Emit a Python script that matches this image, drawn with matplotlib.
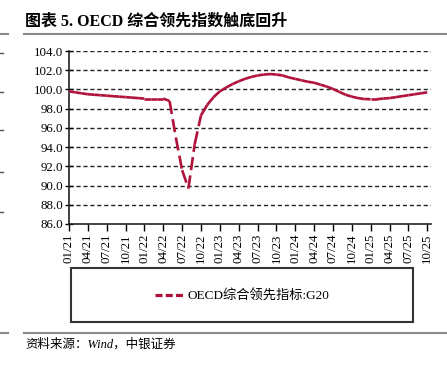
import matplotlib
matplotlib.use('Agg')
import matplotlib.pyplot as plt
from matplotlib.lines import Line2D
from matplotlib.patches import Rectangle

# monthly OECD CLI (G20), 01/21 .. 10/25
months = list(range(58))
cli_values = [
    99.8, 99.7, 99.6, 99.5, 99.45, 99.4, 99.35, 99.3, 99.25, 99.2,
    99.15, 99.1, 99.05, 99.05, 99.05, 99.05, 98.8, 95.0, 91.6, 89.7,
    94.3, 97.3, 98.4, 99.2, 99.8, 100.2, 100.55, 100.85, 101.1, 101.3,
    101.45, 101.55, 101.6, 101.55, 101.45, 101.25, 101.1, 100.95, 100.8, 100.7,
    100.5, 100.3, 100.05, 99.75, 99.45, 99.25, 99.1, 99.0, 98.98, 98.98,
    99.05, 99.1, 99.2, 99.3, 99.4, 99.5, 99.6, 99.7,
]
tick_labels = ['01/21', '04/21', '07/21', '10/21', '01/22', '04/22', '07/22',
               '10/22', '01/23', '04/23', '07/23', '10/23', '01/24', '04/24',
               '07/24', '10/24', '01/25', '04/25', '07/25', '10/25']
y_ticks = [86, 88, 90, 92, 94, 96, 98, 100, 102, 104]
series_name = 'OECD综合领先指标:G20'

W, H = 447, 369
serif = ['Liberation Serif', 'Noto Sans CJK SC']
line_color = '#B0123A'
lw = 1.9

fig = plt.figure(figsize=(W / 100, H / 100), dpi=100)
ax = fig.add_axes([69 / W, 1 - 224 / H, (431 - 69) / W, (224 - 51) / H])

# grid
for yv in y_ticks[1:]:
    ax.axhline(yv, color='#222222', lw=1.0, linestyle=(0, (3, 2)), zorder=1)

# long dashes restart on each segment, so short monthly steps look solid
for i in range(len(months) - 1):
    ax.plot(months[i:i + 2], cli_values[i:i + 2], color=line_color, lw=lw,
            dashes=[5.0, 2.0], dash_capstyle='butt', zorder=3)

ax.set_xlim(0, 57.6)
ax.set_ylim(86, 104)
ax.set_yticks(y_ticks)
ax.set_yticklabels([f'{v:.1f}' for v in y_ticks], fontfamily=serif, fontsize=9.3)
ax.set_xticks(months[::3])
ax.set_xticklabels(tick_labels, rotation=90, fontfamily=serif, fontsize=9.3)
ax.tick_params(axis='y', direction='inout', length=6, width=1, pad=1)
ax.tick_params(axis='x', direction='out', length=5, width=1, pad=2)
for s in ['top', 'right']:
    ax.spines[s].set_visible(False)
for s in ['left', 'bottom']:
    ax.spines[s].set_linewidth(1.2)
    ax.spines[s].set_color('#222222')

# legend box
fig.patches.append(Rectangle((71 / W, 1 - 322 / H), (413 - 71) / W, (322 - 268) / H,
                             transform=fig.transFigure, fill=False,
                             edgecolor='#333333', lw=1.5))
handle = Line2D([], [], color=line_color, lw=lw + 0.4, linestyle=(0, (2.2, 1.0)))
fig.legend([handle], [series_name], loc='center',
           bbox_to_anchor=(242 / W, 1 - 296 / H), frameon=False,
           prop={'family': serif, 'size': 9.5}, handlelength=2.2,
           handletextpad=0.3)

# title, rules, source
fig.text(25 / W, 1 - 22 / H, '图表 5. OECD 综合领先指数触底回升', fontfamily=serif,
         fontsize=11.5, fontweight='bold', va='center', ha='left')
for yy in (34, 333):
    fig.add_artist(Line2D([24 / W, 1], [1 - yy / H] * 2, color='#8a8a8a', lw=1.5))
    fig.add_artist(Line2D([0, 8 / W], [1 - yy / H] * 2, color='#8a8a8a', lw=1.5))
for yy in (53, 92, 130, 172, 212):
    fig.add_artist(Line2D([0, 3 / W], [1 - yy / H] * 2, color='#555555', lw=1))
fig.text(25 / W, 1 - 344 / H, '资料来源：Wind，中银证券', fontfamily=serif,
         fontsize=9, style='italic', va='center', ha='left')

fig.savefig('out.png', dpi=100)
